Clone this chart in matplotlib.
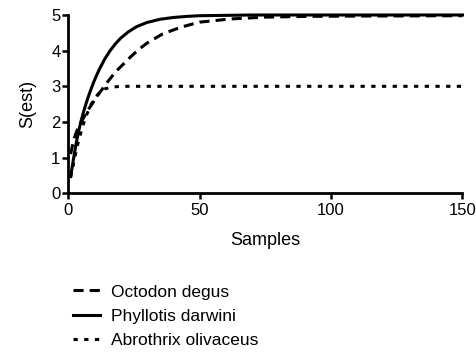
import matplotlib.pyplot as plt

plt.rcParams['font.family'] = ['Liberation Sans', 'DejaVu Sans']

# Octodon degus (dashed)
octodon_x = [1, 2, 3, 4, 5, 6, 8, 10, 12, 15, 18, 21, 24, 27, 30, 36, 43, 50, 62, 75, 90,
             110, 150]
octodon_y = [1.1, 1.45, 1.68, 1.86, 2.0, 2.13, 2.38, 2.6, 2.82, 3.12, 3.4, 3.62, 3.84,
             4.04, 4.21, 4.47, 4.66, 4.8, 4.89, 4.94, 4.96, 4.97, 4.98]

# Phyllotis darwini (solid)
phyllotis_x = [1, 2, 3, 4, 5, 6, 7, 8, 9, 10, 11, 12, 13, 14, 16, 18, 20, 23, 26, 30,
               35, 40, 45, 50, 60, 70, 150]
phyllotis_y = [0.47, 0.93, 1.36, 1.73, 2.04, 2.31, 2.55, 2.77, 2.97, 3.16, 3.33, 3.49,
               3.63, 3.77, 4.0, 4.19, 4.35, 4.53, 4.67, 4.79, 4.88, 4.93, 4.96, 4.98,
               4.99, 5.0, 5.0]

# Abrothrix olivaceus (dotted)
abrothrix_x = [1, 2, 3, 4, 5, 6, 7, 8, 9, 10, 12, 14, 17, 20, 25, 150]
abrothrix_y = [0.45, 0.8, 1.15, 1.47, 1.74, 1.98, 2.19, 2.36, 2.52, 2.65, 2.83, 2.93,
               2.98, 3.0, 3.0, 3.0]

labels = ["Octodon degus", "Phyllotis darwini", "Abrothrix olivaceus"]

fig = plt.figure(figsize=(4.77, 3.52), dpi=100)
ax = fig.add_axes([0.1426, 0.4508, 0.827, 0.5066])

lw = 2.2
l1, = ax.plot(octodon_x, octodon_y, color="black", lw=lw, dashes=(3.3, 2.0),
              dash_capstyle="butt", clip_on=False, label=labels[0])
l2, = ax.plot(phyllotis_x, phyllotis_y, color="black", lw=lw,
              clip_on=False, label=labels[1])
l3, = ax.plot(abrothrix_x, abrothrix_y, color="black", lw=lw, dashes=(1.4, 2.1),
              dash_capstyle="butt", clip_on=False, label=labels[2])

ax.set_xlim(0, 150)
ax.set_ylim(0, 5)
ax.set_xticks([0, 50, 100, 150])
ax.set_yticks([0, 1, 2, 3, 4, 5])

for s in ["top", "right"]:
    ax.spines[s].set_visible(False)
for s in ["left", "bottom"]:
    ax.spines[s].set_linewidth(2.0)
ax.tick_params(direction="out", length=4, width=1.8, labelsize=12, pad=1.5)
ax.tick_params(axis="x", pad=3)

ax.set_xlabel("Samples", fontsize=13, labelpad=10)
ax.set_ylabel("S(est)", fontsize=13, labelpad=11)

fig.legend(handles=[l1, l2, l3], loc="upper left", bbox_to_anchor=(0.152, 0.192),
           frameon=False, fontsize=12.5, handlelength=1.57, handletextpad=0.63,
           labelspacing=0.52, borderpad=0, borderaxespad=0)

fig.savefig("out.png", dpi=100)
